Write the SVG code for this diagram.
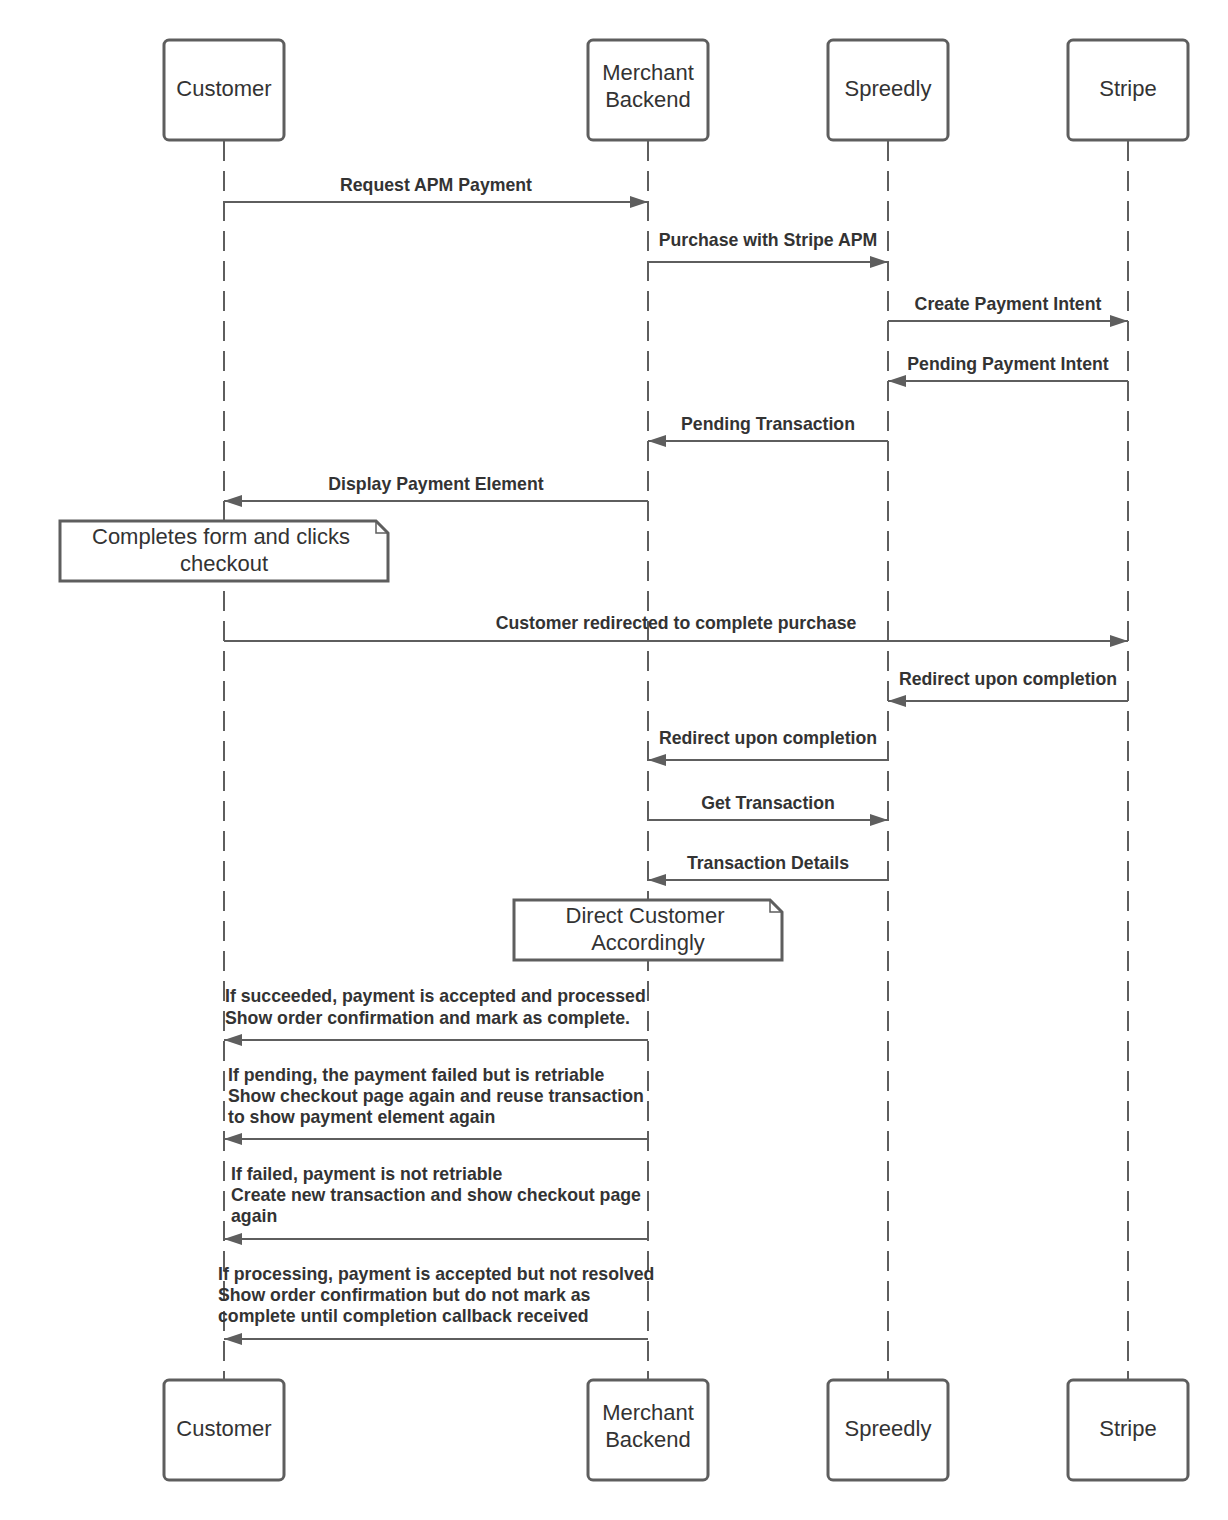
<svg xmlns="http://www.w3.org/2000/svg" width="1228" height="1520" viewBox="0 0 1228 1520">
<style>
.box{fill:#fff;stroke:#5e5e5e;stroke-width:3}
.life{stroke:#5e5e5e;stroke-width:2;stroke-dasharray:20 10;fill:none}
.msg{stroke:#5e5e5e;stroke-width:2;fill:none}
.t{font-family:"Liberation Sans",Arial,sans-serif;font-size:22px;fill:#333;text-anchor:middle}
.l{font-family:"Liberation Sans",Arial,sans-serif;font-size:17.7px;font-weight:bold;fill:#333;text-anchor:middle}
.ll{font-family:"Liberation Sans",Arial,sans-serif;font-size:17.7px;font-weight:bold;fill:#333}
</style>
<defs>
<marker id="ah" markerWidth="20" markerHeight="14" refX="18" refY="6" orient="auto" markerUnits="userSpaceOnUse">
<path d="M0,0 L18,6 L0,12 Z" fill="#5e5e5e"/>
</marker>
</defs>
<rect width="1228" height="1520" fill="#fff"/>
<g id="lifelines">
<line class="life" x1="224" y1="141" x2="224" y2="1380"/>
<line class="life" x1="648" y1="141" x2="648" y2="1380"/>
<line class="life" x1="888" y1="141" x2="888" y2="1380"/>
<line class="life" x1="1128" y1="141" x2="1128" y2="1380"/>
</g>
<g id="customer-top"><rect class="box" x="164" y="40" width="120" height="100" rx="5"/><text class="t" x="224" y="96">Customer</text></g>
<g id="merchant-top"><rect class="box" x="588" y="40" width="120" height="100" rx="5"/><text class="t" x="648" y="80">Merchant</text><text class="t" x="648" y="107">Backend</text></g>
<g id="spreedly-top"><rect class="box" x="828" y="40" width="120" height="100" rx="5"/><text class="t" x="888" y="96">Spreedly</text></g>
<g id="stripe-top"><rect class="box" x="1068" y="40" width="120" height="100" rx="5"/><text class="t" x="1128" y="96">Stripe</text></g>
<g id="customer-bottom"><rect class="box" x="164" y="1380" width="120" height="100" rx="5"/><text class="t" x="224" y="1436">Customer</text></g>
<g id="merchant-bottom"><rect class="box" x="588" y="1380" width="120" height="100" rx="5"/><text class="t" x="648" y="1420">Merchant</text><text class="t" x="648" y="1447">Backend</text></g>
<g id="spreedly-bottom"><rect class="box" x="828" y="1380" width="120" height="100" rx="5"/><text class="t" x="888" y="1436">Spreedly</text></g>
<g id="stripe-bottom"><rect class="box" x="1068" y="1380" width="120" height="100" rx="5"/><text class="t" x="1128" y="1436">Stripe</text></g>
<g id="note-completes">
<path class="box" d="M60,521 H376 L388,533 V581 H60 Z"/>
<path d="M376,521 V533 H388" fill="none" stroke="#5e5e5e" stroke-width="1.5"/>
<text class="t" x="221" y="544">Completes form and clicks</text>
<text class="t" x="224" y="571">checkout</text>
</g>
<g id="note-direct">
<path class="box" d="M514,900 H770 L782,912 V960 H514 Z"/>
<path d="M770,900 V912 H782" fill="none" stroke="#5e5e5e" stroke-width="1.5"/>
<text class="t" x="645" y="923">Direct Customer</text>
<text class="t" x="648" y="950">Accordingly</text>
</g>
<g id="connectors">
<line class="msg" x1="224" y1="202" x2="648" y2="202" marker-end="url(#ah)"/>
<text class="l" x="436" y="191">Request APM Payment</text>
<line class="msg" x1="648" y1="262" x2="888" y2="262" marker-end="url(#ah)"/>
<text class="l" x="768" y="246">Purchase with Stripe APM</text>
<line class="msg" x1="888" y1="321" x2="1128" y2="321" marker-end="url(#ah)"/>
<text class="l" x="1008" y="310">Create Payment Intent</text>
<line class="msg" x1="1128" y1="381" x2="888" y2="381" marker-end="url(#ah)"/>
<text class="l" x="1008" y="370">Pending Payment Intent</text>
<line class="msg" x1="888" y1="441" x2="648" y2="441" marker-end="url(#ah)"/>
<text class="l" x="768" y="430">Pending Transaction</text>
<line class="msg" x1="648" y1="501" x2="224" y2="501" marker-end="url(#ah)"/>
<text class="l" x="436" y="490">Display Payment Element</text>
<line class="msg" x1="224" y1="641" x2="1128" y2="641" marker-end="url(#ah)"/>
<text class="l" x="676" y="629">Customer redirected to complete purchase</text>
<line class="msg" x1="1128" y1="701" x2="888" y2="701" marker-end="url(#ah)"/>
<text class="l" x="1008" y="685">Redirect upon completion</text>
<line class="msg" x1="888" y1="760" x2="648" y2="760" marker-end="url(#ah)"/>
<text class="l" x="768" y="744">Redirect upon completion</text>
<line class="msg" x1="648" y1="820" x2="888" y2="820" marker-end="url(#ah)"/>
<text class="l" x="768" y="809">Get Transaction</text>
<line class="msg" x1="888" y1="880" x2="648" y2="880" marker-end="url(#ah)"/>
<text class="l" x="768" y="869">Transaction Details</text>
<line class="msg" x1="648" y1="1040" x2="224" y2="1040" marker-end="url(#ah)"/>
<text class="ll" x="225" y="1002">If succeeded, payment is accepted and processed</text>
<text class="ll" x="225" y="1024">Show order confirmation and mark as complete.</text>
<line class="msg" x1="648" y1="1139" x2="224" y2="1139" marker-end="url(#ah)"/>
<text class="ll" x="228" y="1081">If pending, the payment failed but is retriable</text>
<text class="ll" x="228" y="1102">Show checkout page again and reuse transaction</text>
<text class="ll" x="228" y="1123">to show payment element again</text>
<line class="msg" x1="648" y1="1239" x2="224" y2="1239" marker-end="url(#ah)"/>
<text class="ll" x="231" y="1180">If failed, payment is not retriable</text>
<text class="ll" x="231" y="1201">Create new transaction and show checkout page</text>
<text class="ll" x="231" y="1222">again</text>
<line class="msg" x1="648" y1="1339" x2="224" y2="1339" marker-end="url(#ah)"/>
<text class="ll" x="218" y="1280">If processing, payment is accepted but not resolved</text>
<text class="ll" x="218" y="1301">Show order confirmation but do not mark as</text>
<text class="ll" x="218" y="1322">complete until completion callback received</text>
</g>
</svg>
